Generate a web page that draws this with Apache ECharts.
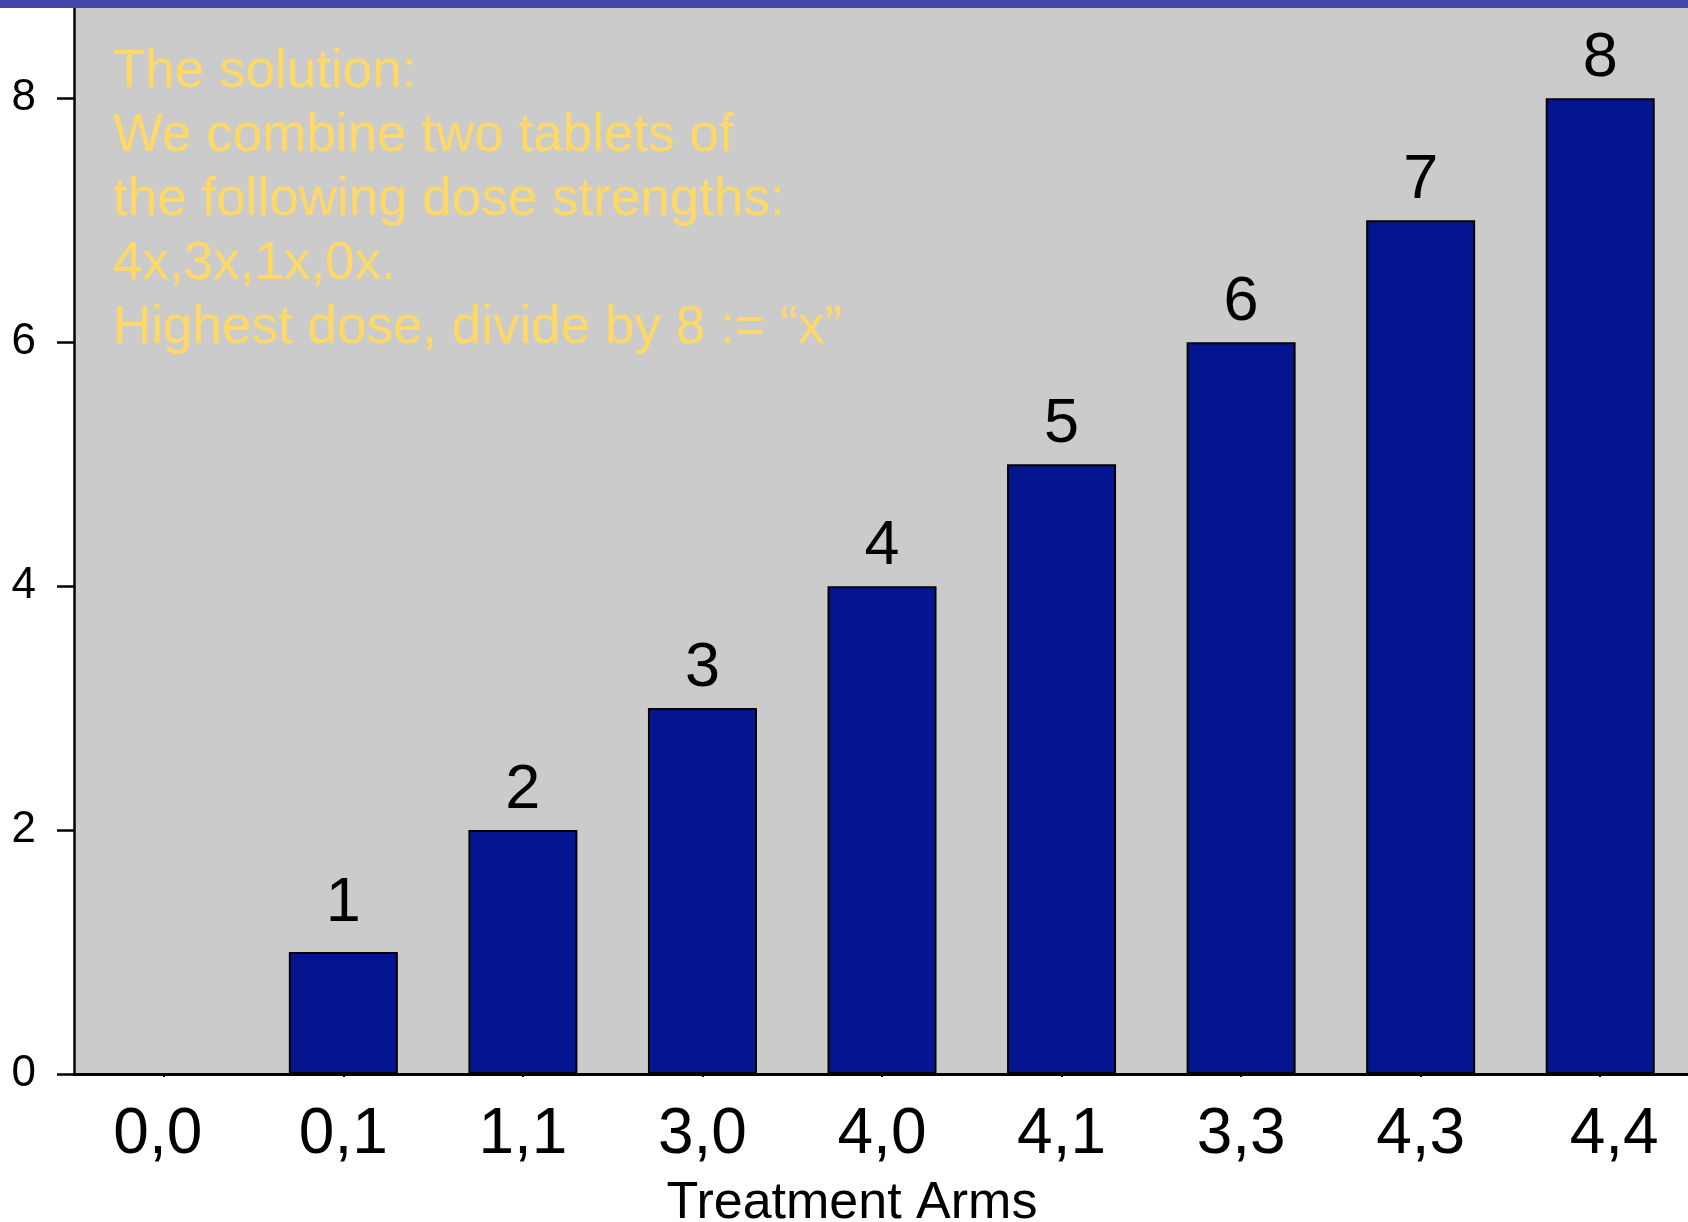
<!DOCTYPE html>
<html>
<head>
<meta charset="utf-8">
<script src="https://cdn.jsdelivr.net/npm/echarts@6/dist/echarts.min.js"></script>
<style>
html,body{margin:0;padding:0;background:#fff;}
#chart{width:1688px;height:1222px;}
</style>
</head>
<body>
<div id="chart"></div>
<script>
const categories = ['0,0','0,1','1,1','3,0','4,0','4,1','3,3','4,3','4,4'];
const doseValues = [0,1,2,3,4,5,6,7,8];
const yTickValues = [0,2,4,6,8];
const axisTitle = 'Treatment Arms';
const noteLines = [
  'The solution:',
  'We combine two tablets of',
  'the following dose strengths:',
  '4x,3x,1x,0x.',
  'Highest dose, divide by 8 := \u201cx\u201d'
];

const FONT = '"Liberation Sans", Arial, Helvetica, sans-serif';
const chart = echarts.init(document.getElementById('chart'), null, {renderer:'canvas'});
const lastIdx = categories.length - 1;
const barData = doseValues.map((v, i) => i === 1 ? {value: v, label: {distance: 17}} : v);
chart.setOption({
  animation:false,
  backgroundColor:'#ffffff',
  textStyle:{fontFamily:FONT},
  grid:{left:74,right:-2,top:8,bottom:148,show:true,backgroundColor:'#cbcbcb',borderWidth:0,
        containLabel:false,outerBoundsMode:'none'},
  xAxis:{
    type:'category',
    data:categories,
    axisLine:{lineStyle:{color:'#000',width:3}},
    axisTick:{show:true,alignWithLabel:true,interval:0,length:3,lineStyle:{color:'#000',width:2}},
    axisLabel:{
      interval:0,hideOverlap:false,
      color:'#000',fontSize:64,fontFamily:FONT,margin:29,
      formatter:(v,i)=> i===lastIdx ? '{r|'+v+'}' : (i===0 ? '{l|'+v+'}' : v),
      rich:{
        r:{fontSize:64,fontFamily:FONT,color:'#000',padding:[0,0,0,28]},
        l:{fontSize:64,fontFamily:FONT,color:'#000',padding:[0,12,0,0]}
      }
    },
    name:axisTitle,
    nameLocation:'middle',
    nameGap:104,
    nameTextStyle:{color:'#000',fontSize:52,fontFamily:FONT,padding:[0,60,0,0]}
  },
  yAxis:{
    type:'value',
    min:0,
    max:8.74,
    interval:2,
    splitLine:{show:false},
    axisLine:{show:true,lineStyle:{color:'#000',width:2.5}},
    axisTick:{show:true,length:17,customValues:yTickValues,lineStyle:{color:'#000',width:2.5}},
    axisLabel:{color:'#000',fontSize:44,fontFamily:FONT,margin:38,showMaxLabel:false,
      formatter:v=> (yTickValues.indexOf(v) >= 0 ? String(v) : '')}
  },
  series:[{
    type:'bar',
    data:barData,
    barWidth:109,
    itemStyle:{color:'#03168f',borderColor:'#000',borderWidth:2},
    label:{
      show:true,position:'top',distance:8,color:'#000',fontSize:63,fontFamily:FONT,
      formatter:p=>p.value===0?'':String(p.value)
    }
  }],
  graphic:[
    {type:'rect',left:0,top:0,shape:{width:1688,height:8},style:{fill:'#4447a9'},z:100},
    {type:'text',left:113,top:40,style:{text:noteLines.join('\n'),fill:'#ffd966',font:'53px '+FONT,lineHeight:64},z:50}
  ]
});
</script>
</body>
</html>
